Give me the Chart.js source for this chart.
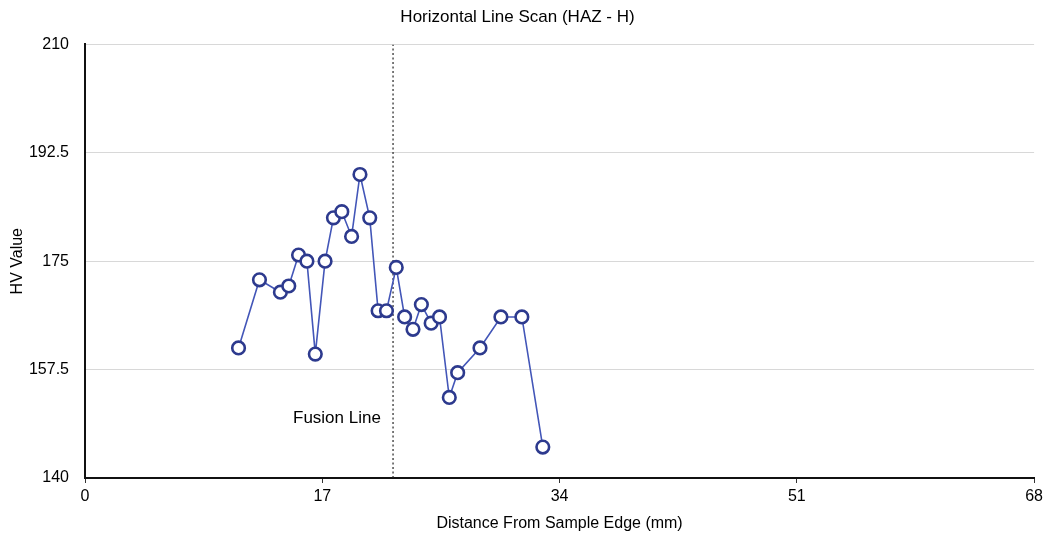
<!DOCTYPE html>
<html>
<head>
<meta charset="utf-8">
<script src="https://cdn.jsdelivr.net/npm/chart.js@4"></script>
<style>
  html, body { margin: 0; padding: 0; background: #fff; }
  #wrap { width: 1047px; height: 538px; }
</style>
</head>
<body>
<div id="wrap"><canvas id="c"></canvas></div>
<script>
// Hardness readings along the horizontal scan line
const distanceMm = [11.0, 12.5, 14.0, 14.6, 15.3, 15.9, 16.5, 17.2, 17.8, 18.4, 19.1, 19.7, 20.4, 21.0,
                    21.6, 22.3, 22.9, 23.5, 24.1, 24.8, 25.4, 26.1, 26.7, 28.3, 29.8, 31.3, 32.8];
const hvValues   = [161, 172, 170, 171, 176, 175, 160, 175, 182, 183, 179, 189, 182, 167,
                    167, 174, 166, 164, 168, 165, 166, 153, 157, 161, 166, 166, 145];
const xTicks = [0, 17, 34, 51, 68];
const yTicks = [140, 157.5, 175, 192.5, 210];
const fusionLineX = 22.07;
const fusionLabel = 'Fusion Line';
const fusionLabelAt = { x: 21.2, y: 149.7 };

const FONT = "'Liberation Sans', Arial, Helvetica, sans-serif";
const INK = '#000';

const fusionText = {
  id: 'fusionText',
  afterDatasetsDraw(chart) {
    const { ctx, scales } = chart;
    ctx.save();
    ctx.font = `17px ${FONT}`;
    ctx.fillStyle = INK;
    ctx.textAlign = 'right';
    ctx.textBaseline = 'middle';
    ctx.fillText(fusionLabel, scales.x.getPixelForValue(fusionLabelAt.x), scales.y.getPixelForValue(fusionLabelAt.y));
    ctx.restore();
  }
};

new Chart(document.getElementById('c'), {
  type: 'scatter',
  data: {
    datasets: [
      {
        label: 'Fusion',
        data: [{ x: fusionLineX, y: yTicks[0] }, { x: fusionLineX, y: yTicks[yTicks.length - 1] }],
        showLine: true,
        borderColor: '#222',
        borderWidth: 1.2,
        borderDash: [2, 2.5],
        pointRadius: 0,
        order: 2
      },
      {
        label: 'HV',
        data: distanceMm.map((d, i) => ({ x: d, y: hvValues[i] })),
        showLine: true,
        borderColor: '#4356b8',
        borderWidth: 1.6,
        pointRadius: 6.3,
        pointBorderWidth: 2.6,
        pointBorderColor: '#2d3a8e',
        pointBackgroundColor: '#ffffff',
        order: 1
      }
    ]
  },
  options: {
    responsive: true,
    maintainAspectRatio: false,
    animation: false,
    layout: { padding: { left: 0, right: 12, top: 0, bottom: 0 } },
    plugins: {
      legend: { display: false },
      tooltip: { enabled: false },
      title: {
        display: true,
        text: 'Horizontal Line Scan (HAZ - H)',
        color: INK,
        font: { family: FONT, size: 17, weight: 'normal' },
        padding: { top: 7, bottom: 17 }
      }
    },
    scales: {
      x: {
        type: 'linear',
        min: 0,
        max: 68,
        afterBuildTicks: s => { s.ticks = xTicks.map(v => ({ value: v })); },
        afterFit: s => { s.height = 60; },
        ticks: { color: INK, font: { family: FONT, size: 16 }, padding: 4 },
        grid: { drawOnChartArea: false, drawTicks: true, tickLength: 5, color: '#333', lineWidth: 1 },
        border: { display: true, color: '#111', width: 2 },
        title: {
          display: true,
          text: 'Distance From Sample Edge (mm)',
          color: INK,
          font: { family: FONT, size: 16 },
          padding: { top: 0, bottom: 5 }
        }
      },
      y: {
        type: 'linear',
        min: 140,
        max: 210,
        afterBuildTicks: s => { s.ticks = yTicks.map(v => ({ value: v })); },
        afterFit: s => { s.width = 85; },
        ticks: { color: INK, font: { family: FONT, size: 16 }, padding: 16 },
        grid: {
          drawTicks: false,
          color: c => (c.tick && c.tick.value === 140) ? 'rgba(0,0,0,0)' : '#d8d8d8',
          lineWidth: 1
        },
        border: { display: true, color: '#111', width: 2, dash: [] },
        title: {
          display: true,
          text: 'HV Value',
          color: INK,
          font: { family: FONT, size: 16 },
          padding: { top: 8, bottom: 0 }
        }
      }
    }
  },
  plugins: [fusionText]
});
</script>
</body>
</html>
